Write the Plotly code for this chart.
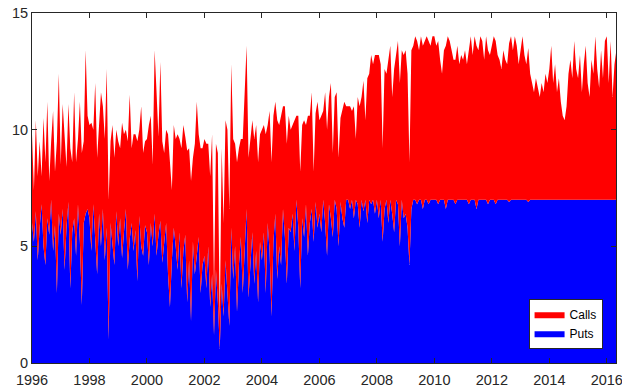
import plotly.graph_objects as go

years = list(range(1996, 2017))
points_per_year = [15] * 20 + [6]

puts = [
    # 1996
    6.0, 5.2, 6.5, 4.4, 5.8, 6.8, 5.0, 4.2, 6.2, 5.5, 7.0, 4.8, 5.9, 3.0, 6.4,
    # 1997
    5.5, 6.6, 4.0, 5.8, 6.9, 3.2, 5.6, 6.2, 4.6, 6.8, 5.2, 2.5, 6.0, 6.4, 6.6,
    # 1998
    6.2, 4.8, 6.8, 5.5, 3.8, 6.4, 5.0, 6.6, 4.4, 5.8, 1.0, 6.0, 5.2, 4.2, 6.5,
    # 1999
    5.0, 6.2, 4.5, 5.6, 6.6, 4.0, 5.3, 6.0, 4.8, 5.7, 3.5, 6.3, 5.0, 4.6, 5.9,
    # 2000
    5.6, 4.2, 6.0, 5.0, 6.4, 4.6, 5.5, 6.1, 4.3, 5.2, 6.0, 3.8, 2.4, 4.4, 5.8,
    # 2001
    5.0, 4.0, 5.6, 3.2, 4.8, 5.5, 2.6, 4.4, 1.8, 5.2, 3.8, 4.6, 5.4, 3.0, 4.2,
    # 2002
    4.6, 3.2, 5.0, 2.4, 3.8, 1.2, 4.0, 2.6, 0.6, 3.4, 2.0, 4.4, 3.0, 1.6, 5.8,
    # 2003
    3.6, 5.0, 2.2, 4.2, 5.4, 3.0, 4.6, 6.6, 2.8, 4.0, 5.6, 3.4, 4.8, 2.6, 5.2,
    # 2004
    4.4, 5.6, 3.0, 6.0, 4.8, 2.0, 5.2, 6.4, 3.6, 5.0, 4.2, 6.6, 5.4, 3.4, 5.8,
    # 2005
    5.6, 6.4, 4.8, 7.0, 5.8, 3.2, 6.2, 5.4, 6.8, 4.6, 6.0, 6.6, 5.2, 6.9, 5.8,
    # 2006
    6.4, 5.6, 7.0, 6.0, 4.6, 6.8, 6.2, 5.4, 7.0, 6.6, 5.0, 6.9, 6.2, 5.8, 7.0,
    # 2007
    7.0, 6.6, 7.0, 6.2, 7.0, 6.8, 5.8, 7.0, 6.5, 7.0, 6.0, 7.0, 6.8, 7.0, 6.4,
    # 2008
    7.0, 6.2, 7.0, 5.2, 6.6, 7.0, 6.0, 7.0, 6.4, 5.6, 7.0, 6.8, 5.0, 7.0, 6.2,
    # 2009
    6.4, 5.8, 4.2, 6.6, 7.0, 7.0, 6.8, 7.0, 7.0, 6.6, 7.0, 7.0, 6.8, 7.0, 7.0,
    # 2010
    7.0, 7.0, 6.8, 7.0, 7.0, 7.0, 6.6, 7.0, 7.0, 7.0, 7.0, 6.8, 7.0, 7.0, 7.0,
    # 2011
    7.0, 7.0, 7.0, 6.8, 7.0, 7.0, 7.0, 6.6, 7.0, 7.0, 7.0, 7.0, 7.0, 6.8, 7.0,
    # 2012
    7.0, 7.0, 6.8, 7.0, 7.0, 7.0, 7.0, 7.0, 7.0, 6.9, 7.0, 7.0, 7.0, 7.0, 7.0,
    # 2013
    7.0, 7.0, 7.0, 7.0, 6.9, 7.0, 7.0, 7.0, 7.0, 7.0, 7.0, 7.0, 7.0, 7.0, 7.0,
    # 2014
    7.0, 7.0, 7.0, 7.0, 7.0, 7.0, 7.0, 7.0, 7.0, 7.0, 7.0, 7.0, 7.0, 7.0, 7.0,
    # 2015
    7.0, 7.0, 7.0, 7.0, 7.0, 7.0, 7.0, 7.0, 7.0, 7.0, 7.0, 7.0, 7.0, 7.0, 7.0,
    # 2016
    7.0, 7.0, 7.0, 7.0, 7.0, 7.0,
]

calls = [
    # 1996
    3.8, 2.2, 3.9, 3.6, 3.7, 1.2, 5.5, 4.4, 5.0, 2.3, 2.5, 6.0, 2.3, 6.5, 6.0,
    # 1997
    3.0, 4.5, 5.5, 2.6, 4.2, 6.0, 3.0, 5.4, 4.0, 2.8, 6.0, 6.5, 3.5, 7.0, 4.0,
    # 1998
    4.0, 5.5, 3.2, 6.5, 5.0, 3.8, 6.6, 4.4, 5.2, 6.8, 6.0, 3.5, 5.0, 4.6, 3.5,
    # 1999
    4.5, 3.0, 5.8, 4.2, 3.4, 5.5, 6.2, 3.2, 5.0, 4.1, 6.0, 3.7, 6.0, 4.4, 3.6,
    # 2000
    4.0, 6.0, 4.6, 3.5, 7.0, 7.0, 4.2, 6.8, 5.2, 3.8, 4.0, 6.0, 6.0, 3.0, 4.4,
    # 2001
    4.6, 5.8, 4.0, 6.0, 5.4, 4.2, 6.5, 4.8, 6.0, 3.6, 5.6, 6.6, 4.4, 6.2, 5.0,
    # 2002
    5.0, 6.2, 4.4, 5.6, 6.0, 2.0, 5.4, 6.4, 1.2, 5.8, 4.0, 6.0, 7.0, 5.0, 7.0,
    # 2003
    6.0, 4.4, 6.4, 5.0, 4.2, 6.6, 6.8, 7.0, 6.0, 5.6, 4.8, 6.2, 5.4, 6.0, 4.6,
    # 2004
    5.6, 4.6, 6.8, 4.2, 6.0, 6.6, 5.4, 4.8, 6.8, 5.2, 6.4, 4.4, 5.6, 6.0, 4.8,
    # 2005
    4.4, 3.8, 5.6, 3.6, 4.8, 5.0, 4.0, 5.0, 3.4, 6.0, 4.6, 5.0, 3.0, 3.8, 5.4,
    # 2006
    4.0, 5.0, 3.8, 5.6, 5.4, 4.6, 5.8, 3.6, 4.4, 5.0, 3.8, 3.6, 4.6, 5.4, 4.0,
    # 2007
    4.0, 4.4, 3.8, 4.8, 2.6, 4.6, 5.2, 4.4, 5.6, 3.4, 6.2, 5.4, 6.4, 5.8, 6.8,
    # 2008
    6.2, 7.0, 5.8, 4.0, 6.0, 5.4, 7.0, 6.6, 5.0, 7.0, 6.2, 7.0, 7.0, 6.4, 7.0,
    # 2009
    7.0, 6.6, 4.4, 6.8, 6.6, 7.0, 7.0, 6.4, 7.0, 7.0, 6.8, 7.0, 7.0, 6.6, 7.0,
    # 2010
    7.0, 6.6, 7.0, 6.0, 5.4, 6.4, 7.0, 7.0, 6.8, 6.4, 6.0, 6.2, 6.6, 5.8, 6.2,
    # 2011
    6.0, 6.4, 5.8, 6.6, 7.0, 6.2, 7.0, 7.0, 6.4, 7.0, 6.8, 6.0, 7.0, 6.6, 6.2,
    # 2012
    6.6, 7.0, 7.0, 6.2, 6.0, 5.6, 6.4, 6.0, 5.8, 6.8, 7.0, 6.4, 7.0, 6.6, 5.8,
    # 2013
    6.4, 7.0, 6.2, 5.8, 6.6, 5.4, 5.0, 4.6, 5.2, 4.8, 4.4, 5.0, 4.6, 5.4, 5.0,
    # 2014
    5.6, 6.6, 5.0, 5.8, 4.6, 5.2, 4.2, 3.6, 3.4, 4.0, 5.4, 6.0, 5.2, 6.8, 5.6,
    # 2015
    5.2, 6.2, 4.6, 5.8, 6.6, 5.0, 4.4, 6.0, 5.4, 7.0, 5.6, 4.8, 6.4, 5.2, 6.8,
    # 2016
    7.0, 5.0, 6.8, 4.4, 5.8, 6.4,
]

x_tick_labels = [str(y) for y in range(1996, 2017, 2)]
y_tick_labels = ["0", "5", "10", "15"]

x = []
for yr, n in zip(years, points_per_year):
    for i in range(n):
        x.append(yr + i / 15.0)

AX = "#262626"
FONT = "Liberation Sans, Arial, Helvetica, sans-serif"

fig = go.Figure()
fig.add_trace(go.Scatter(
    x=x, y=puts, name="Puts", mode="lines", stackgroup="one",
    line=dict(width=0, color="#0000FF"), fillcolor="#0000FF",
))
fig.add_trace(go.Scatter(
    x=x, y=calls, name="Calls", mode="lines", stackgroup="one",
    line=dict(width=0, color="#FF0000"), fillcolor="#FF0000",
))

fig.update_layout(
    width=622, height=390,
    margin=dict(l=32, r=6, t=13, b=27, autoexpand=False),
    paper_bgcolor="white", plot_bgcolor="white",
    font=dict(family=FONT, size=14.5, color=AX),
    showlegend=True,
    legend=dict(
        x=0.977, y=0.041, xanchor="right", yanchor="bottom",
        traceorder="reversed",
        bgcolor="white", bordercolor=AX, borderwidth=1,
        font=dict(family=FONT, size=12, color="black"),
        itemsizing="constant", tracegroupgap=0,
    ),
    xaxis=dict(
        range=[1996, 2016.32], automargin=False,
        tickvals=list(range(1996, 2017, 2)),
        ticktext=x_tick_labels,
        ticklabeloverflow="allow",
        ticks="inside", ticklen=5, tickcolor=AX, tickwidth=1,
        ticklabelstandoff=4,
        showline=True, linecolor=AX, linewidth=1, mirror="ticks",
        showgrid=False, zeroline=False,
        tickfont=dict(size=14.5, color=AX),
    ),
    yaxis=dict(
        range=[0, 15], automargin=False,
        tickvals=[0, 5, 10, 15],
        ticktext=y_tick_labels,
        ticklabeloverflow="allow",
        ticks="inside", ticklen=5, tickcolor=AX, tickwidth=1,
        showline=True, linecolor=AX, linewidth=1, mirror="ticks",
        showgrid=False, zeroline=False,
        tickfont=dict(size=14.5, color=AX),
    ),
)

fig.write_html("out.html")
